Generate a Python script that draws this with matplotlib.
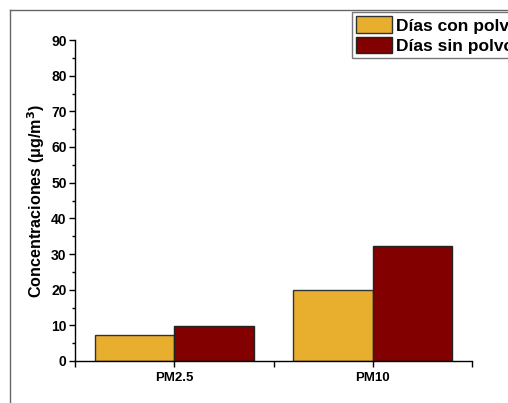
import matplotlib
matplotlib.use("Agg")
import matplotlib.pyplot as plt
from matplotlib.lines import Line2D
from matplotlib.ticker import MultipleLocator
import numpy as np

categories = ["PM2.5", "PM10"]
con_polvo = [7.4, 20.0]
sin_polvo = [9.9, 32.2]
series_labels = ["Días con polvo", "Días sin polvo"]
colors = ["#E8AE2D", "#820000"]

plt.rcParams['font.family'] = ['Liberation Sans', 'DejaVu Sans']
plt.rcParams['font.weight'] = 'bold'

fig = plt.figure(figsize=(5.08, 4.03), dpi=100)
ax = fig.add_axes([75/508, 1-361/403, (472-75)/508, (361-40)/403])

x = np.arange(1, len(categories)+1)
w = 0.4
b1 = ax.bar(x - w/2, con_polvo, width=w, color=colors[0], edgecolor="#333333", linewidth=1.0, label=series_labels[0])
b2 = ax.bar(x + w/2, sin_polvo, width=w, color=colors[1], edgecolor="#222222", linewidth=1.0, label=series_labels[1])

ax.set_xlim(0.5, 2.5)
ax.set_ylim(0, 90)
ax.set_xticks(x)
ax.set_xticklabels(categories, fontsize=9.5, fontweight='bold')
ax.set_xticks([0.5, 1.5, 2.5], minor=True)
ax.yaxis.set_major_locator(MultipleLocator(10))
ax.yaxis.set_minor_locator(MultipleLocator(5))
for lab in ax.get_yticklabels():
    lab.set_fontweight('bold')
ax.tick_params(axis='y', which='major', labelsize=10, length=4, width=1, direction='out', pad=2)
ax.tick_params(axis='y', which='minor', length=2.5, width=1, direction='out')
ax.tick_params(axis='x', which='major', labelsize=9.5, length=4, width=1, direction='out', pad=4)
ax.tick_params(axis='x', which='minor', length=4, width=1, direction='out')
ax.spines['top'].set_visible(False)
ax.spines['right'].set_visible(False)
ax.spines['left'].set_linewidth(1.0)
ax.spines['bottom'].set_linewidth(1.0)
ax.set_ylabel("Concentraciones (μg/m$^\\mathbf{3}$)", fontsize=11.6, fontweight='bold', labelpad=3)

leg = fig.legend(handles=[b1, b2], loc='upper left', bbox_to_anchor=(352/508, 1-12/403),
                 fontsize=12.5, frameon=True, fancybox=False, edgecolor="#555555",
                 handlelength=2.07, handleheight=1.1, handletextpad=0.2, borderpad=0.25,
                 labelspacing=0.17, borderaxespad=0)
leg.get_frame().set_linewidth(1.0)
for t in leg.get_texts():
    t.set_fontweight('bold')

# outer partial frame
fig.add_artist(Line2D([9.5/508, 9.5/508], [0, 1-9.5/403], color="#666666", linewidth=1.0, transform=fig.transFigure))
fig.add_artist(Line2D([9.5/508, 1], [1-9.5/403, 1-9.5/403], color="#666666", linewidth=1.0, transform=fig.transFigure))

fig.savefig("out.png", dpi=100)
